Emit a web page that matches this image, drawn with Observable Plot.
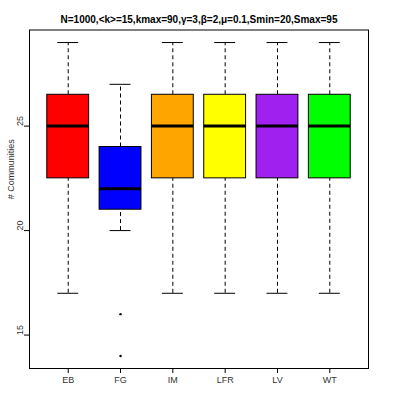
<!DOCTYPE html>
<html>
<head>
<meta charset="utf-8">
<script src="https://cdn.jsdelivr.net/npm/d3@7"></script>
<script src="https://cdn.jsdelivr.net/npm/@observablehq/plot@0.6"></script>
<style>
  body { margin: 0; background: #fff; }
  svg { display: block; }
</style>
</head>
<body>
<div id="chart"></div>
<script>
const categories = ["EB", "FG", "IM", "LFR", "LV", "WT"];
const colors = ["#FF0000", "#0000FF", "#FFA500", "#FFFF00", "#A020F0", "#00FF00"];
const lowerWhisker = [17, 20, 17, 17, 17, 17];
const q1 = [22.5, 21, 22.5, 22.5, 22.5, 22.5];
const median = [25, 22, 25, 25, 25, 25];
const q3 = [26.5, 24, 26.5, 26.5, 26.5, 26.5];
const upperWhisker = [29, 27, 29, 29, 29, 29];
const outlierCategory = ["FG", "FG"];
const outlierValue = [16, 14];
const yTicks = [15, 20, 25];
const title = "N=1000,<k>=15,kmax=90,\u03B3=3,\u03B2=2,\u03BC=0.1,Smin=20,Smax=95";
const yLabel = "# Communities";

const boxes = categories.map((c, i) => ({
  cat: c, i: i + 1, color: colors[i],
  lo: lowerWhisker[i], q1: q1[i], med: median[i], q3: q3[i], hi: upperWhisker[i]
}));
const outliers = outlierCategory.map((c, k) => ({i: categories.indexOf(c) + 1, v: outlierValue[k]}));

const halfBox = 0.4, halfStaple = 0.2;
const font = "Liberation Sans, Arial, sans-serif";

const chart = Plot.plot({
  width: 399,
  height: 399,
  marginLeft: 29,
  marginRight: 31,
  marginTop: 29.5,
  marginBottom: 31,
  style: {fontFamily: font, fontSize: "9px", color: "black", background: "white"},
  x: {domain: [0.26, 6.74], axis: null},
  y: {domain: [13.4, 29.6], axis: null},
  marks: [
    Plot.ruleX(boxes, {x: "i", y1: "q3", y2: "hi", stroke: "black", strokeDasharray: "4,3", strokeWidth: 1}),
    Plot.ruleX(boxes, {x: "i", y1: "lo", y2: "q1", stroke: "black", strokeDasharray: "4,3", strokeWidth: 1}),
    Plot.ruleY(boxes, {y: "hi", x1: d => d.i - halfStaple, x2: d => d.i + halfStaple, stroke: "black", strokeWidth: 1}),
    Plot.ruleY(boxes, {y: "lo", x1: d => d.i - halfStaple, x2: d => d.i + halfStaple, stroke: "black", strokeWidth: 1}),
    Plot.rect(boxes, {x1: d => d.i - halfBox, x2: d => d.i + halfBox, y1: "q1", y2: "q3", fill: d => d.color, stroke: "black", strokeWidth: 1}),
    Plot.ruleY(boxes, {y: "med", x1: d => d.i - halfBox, x2: d => d.i + halfBox, stroke: "black", strokeWidth: 3}),
    Plot.dot(outliers, {x: "i", y: "v", r: 1.2, fill: "black", stroke: null}),
    Plot.frame({stroke: "black", strokeWidth: 1}),
    Plot.axisX({ticks: boxes.map(d => d.i), tickFormat: i => categories[i - 1], tickSize: 5, tickPadding: 3, fontSize: 9, fill: "#333", stroke: "black", label: null}),
    Plot.axisY({ticks: yTicks, tickSize: 5, tickFormat: () => "", stroke: "black", label: null}),
    Plot.text(yTicks, {y: d => d, frameAnchor: "left", dx: -9, rotate: -90, text: d => String(d), fontSize: 9, fill: "#333"}),
    Plot.text([yLabel], {frameAnchor: "left", dx: -18, rotate: -90, text: d => d, fontSize: 9, fill: "#333"}),
    Plot.text([title], {frameAnchor: "top", dy: -14.5, text: d => d, fontSize: 10, fontWeight: "bold", fill: "black"})
  ]
});
document.getElementById("chart").appendChild(chart);
</script>
</body>
</html>
